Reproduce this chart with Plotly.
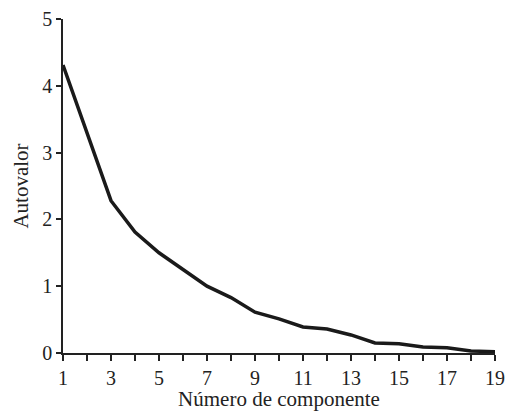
import plotly.graph_objects as go

componentes = list(range(1, 20))
autovalores = [4.31, 3.30, 2.28, 1.81, 1.50, 1.25, 1.00, 0.83, 0.61, 0.51,
               0.39, 0.36, 0.27, 0.15, 0.14, 0.09, 0.08, 0.03, 0.02]
x_tick_vals = list(range(1, 20))
x_tick_text = [str(v) if v % 2 == 1 else "" for v in x_tick_vals]
y_tick_vals = [0, 1, 2, 3, 4, 5]

fig = go.Figure(go.Scatter(
    x=componentes, y=autovalores, mode="lines",
    line=dict(color="#1a1a1a", width=3.5),
))

fig.update_layout(
    width=505, height=411, autosize=False,
    margin=dict(l=63, r=10, t=19, b=58),
    paper_bgcolor="white", plot_bgcolor="white",
    showlegend=False,
    font=dict(family="Liberation Serif", color="#222222"),
)
fig.update_xaxes(
    range=[1, 19], tickvals=x_tick_vals, ticktext=x_tick_text,
    ticks="outside", ticklen=6, tickwidth=1.5, tickcolor="#222",
    showline=True, linecolor="#222", linewidth=1.5,
    showgrid=False, zeroline=False, automargin=False,
    tickfont=dict(family="Liberation Serif", size=20, color="#222"),
    title=dict(text="Número de componente", standoff=2,
               font=dict(family="Liberation Serif", size=21, color="#222")),
)
fig.update_yaxes(
    range=[0, 5], tickvals=y_tick_vals,
    ticks="outside", ticklen=5, tickwidth=1.5, tickcolor="#222",
    showline=True, linecolor="#222", linewidth=1.5,
    showgrid=False, zeroline=False, automargin=False,
    tickfont=dict(family="Liberation Serif", size=20, color="#222"),
    title=dict(text="Autovalor", standoff=8,
               font=dict(family="Liberation Serif", size=21, color="#222")),
)
fig.write_html(
    "out.html",
    config={"displayModeBar": False},
    post_script="document.body.style.margin='0';document.body.style.overflow='hidden';",
)
